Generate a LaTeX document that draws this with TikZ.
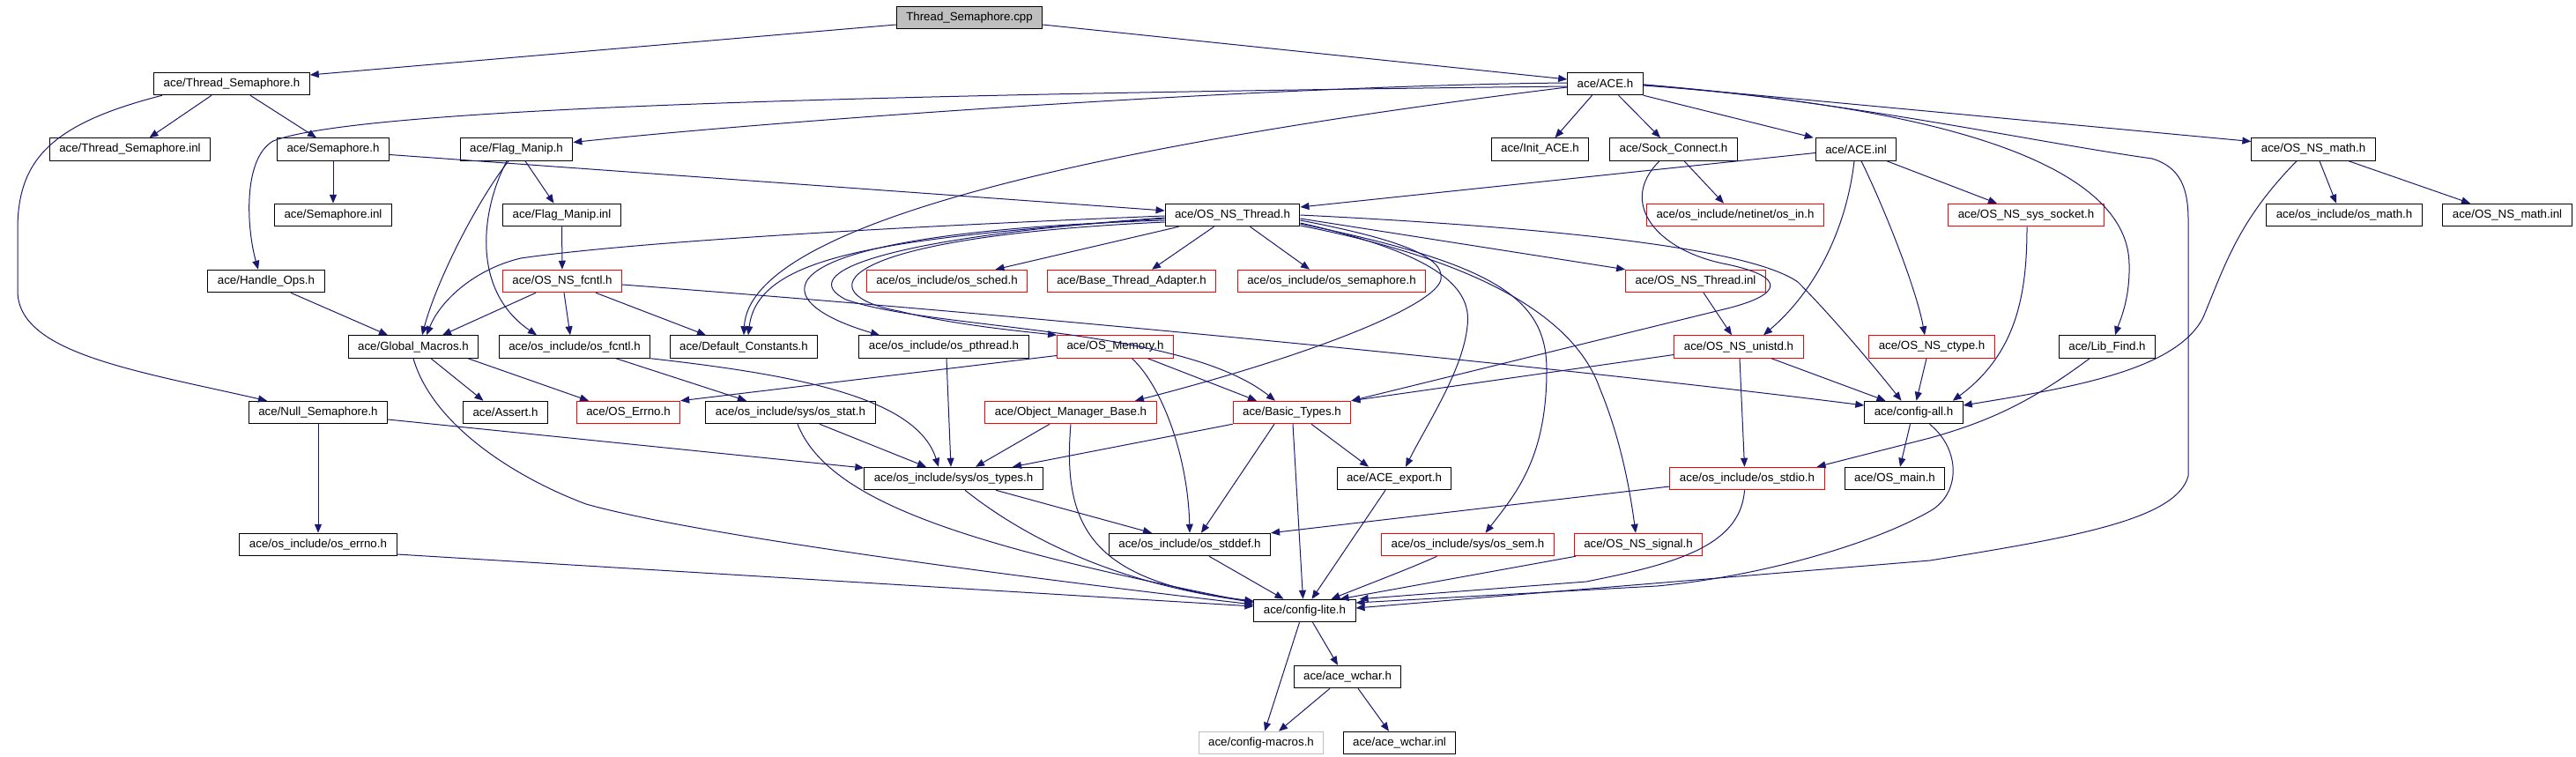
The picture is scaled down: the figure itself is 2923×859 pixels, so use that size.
\documentclass[tikz,border=0pt]{standalone}
\usepackage{fontspec}
\setmainfont{Liberation Sans}
\usepackage{tikz}
\usetikzlibrary{arrows.meta}
\definecolor{edgeblue}{RGB}{25,25,112}
\definecolor{nodocgray}{RGB}{191,191,191}

\begin{document}
\begin{tikzpicture}[
  x=1pt, y=-1pt,
  block/.style={draw, line width=1pt, rectangle, minimum height=25.5pt, inner xsep=11pt, inner ysep=0pt, font={\fontsize{13.3}{15}\selectfont}},
  redblock/.style={block, draw=red},
  grayblock/.style={block, draw=nodocgray},
  rootblock/.style={block, fill=nodocgray},
  arrow/.style={-{Triangle[length=10pt,width=8pt]}, line width=1pt, color=edgeblue}
]
\useasboundingbox (0,0) rectangle (2923,859);

\node[rootblock] (tsc) at (1100,20) {Thread\_Semaphore.cpp};
\node[block] (tsh) at (263,95) {ace/Thread\_Semaphore.h};
\node[block] (aceh) at (1821.5,95) {ace/ACE.h};
\node[block] (tsinl) at (147.5,169.5) {ace/Thread\_Semaphore.inl};
\node[block] (semh) at (378,169.5) {ace/Semaphore.h};
\node[block] (flagh) at (586,169.5) {ace/Flag\_Manip.h};
\node[block] (initace) at (1747.5,169.5) {ace/Init\_ACE.h};
\node[block] (sockc) at (1899,169.5) {ace/Sock\_Connect.h};
\node[block] (aceinl) at (2106,169.5) {ace/ACE.inl};
\node[block] (mathh) at (2625,169.5) {ace/OS\_NS\_math.h};
\node[block] (seminl) at (378,244) {ace/Semaphore.inl};
\node[block] (flaginl) at (637.5,244) {ace/Flag\_Manip.inl};
\node[block] (thrh) at (1398.5,244) {ace/OS\_NS\_Thread.h};
\node[redblock] (osin) at (1969,244) {ace/os\_include/netinet/os\_in.h};
\node[redblock] (socket) at (2299,244) {ace/OS\_NS\_sys\_socket.h};
\node[block] (osmath) at (2660,244) {ace/os\_include/os\_math.h};
\node[block] (mathinl) at (2845,244) {ace/OS\_NS\_math.inl};
\node[block] (handle) at (302,319) {ace/Handle\_Ops.h};
\node[redblock] (fcntl) at (638,319) {ace/OS\_NS\_fcntl.h};
\node[redblock] (sched) at (1074.5,319) {ace/os\_include/os\_sched.h};
\node[redblock] (bta) at (1284,319) {ace/Base\_Thread\_Adapter.h};
\node[redblock] (ossema) at (1511,319) {ace/os\_include/os\_semaphore.h};
\node[redblock] (thrinl) at (1924,319) {ace/OS\_NS\_Thread.inl};
\node[block] (globm) at (469,393.5) {ace/Global\_Macros.h};
\node[block] (osfcntl) at (652,393.5) {ace/os\_include/os\_fcntl.h};
\node[block] (defc) at (844,393.5) {ace/Default\_Constants.h};
\node[block] (pthr) at (1071,393.5) {ace/os\_include/os\_pthread.h};
\node[redblock] (osmem) at (1265.5,393.5) {ace/OS\_Memory.h};
\node[redblock] (unistd) at (1973,393.5) {ace/OS\_NS\_unistd.h};
\node[redblock] (ctype) at (2192,393.5) {ace/OS\_NS\_ctype.h};
\node[block] (libfind) at (2391,393.5) {ace/Lib\_Find.h};
\node[block] (nullsem) at (361,468) {ace/Null\_Semaphore.h};
\node[block] (assert) at (573.5,468) {ace/Assert.h};
\node[redblock] (errno) at (713,468) {ace/OS\_Errno.h};
\node[block] (osstat) at (897,468) {ace/os\_include/sys/os\_stat.h};
\node[redblock] (omb) at (1215,468) {ace/Object\_Manager\_Base.h};
\node[redblock] (basic) at (1466,468) {ace/Basic\_Types.h};
\node[block] (cfgall) at (2171.5,468) {ace/config-all.h};
\node[block] (ostypes) at (1082,543) {ace/os\_include/sys/os\_types.h};
\node[block] (export) at (1582,543) {ace/ACE\_export.h};
\node[redblock] (stdio) at (1982.5,543) {ace/os\_include/os\_stdio.h};
\node[block] (osmain) at (2150,543) {ace/OS\_main.h};
\node[block] (oserrno) at (361,618) {ace/os\_include/os\_errno.h};
\node[block] (stddef) at (1350,618) {ace/os\_include/os\_stddef.h};
\node[redblock] (ossem) at (1665.5,618) {ace/os\_include/sys/os\_sem.h};
\node[redblock] (signal) at (1859,618) {ace/OS\_NS\_signal.h};
\node[block] (cfglite) at (1480.5,693) {ace/config-lite.h};
\node[block] (wchar) at (1529,768) {ace/ace\_wchar.h};
\node[grayblock] (cfgmac) at (1431,843) {ace/config-macros.h};
\node[block] (wcharinl) at (1588,843) {ace/ace\_wchar.inl};

\draw[arrow] ([yshift=-8pt]tsc.west) -- ([yshift=10pt]tsh.east);
\draw[arrow] ([yshift=-8pt]tsc.east) -- ([yshift=5pt]aceh.west);

\draw[arrow] ([xshift=-23pt]tsh.south) -- ([xshift=22pt]tsinl.north);
\draw[arrow] ([xshift=21pt]tsh.south) -- ([xshift=-19pt]semh.north);
\draw[arrow] ([xshift=-79pt]tsh.south) .. controls (60,140) and (20,180) .. (20,260) -- (20,330)
  .. controls (20,400) and (150,420) .. ([xshift=-58pt]nullsem.north);

\draw[arrow] ([yshift=-3pt]aceh.west) .. controls (900,108) and (400,125) .. (310,160)
  .. controls (275,180) and (280,260) .. ([xshift=-9pt]handle.north);
\draw[arrow] ([yshift=1pt]aceh.west) .. controls (1450,97) and (900,135) .. ([yshift=8pt]flagh.east);
\draw[arrow] ([yshift=-4pt]aceh.west) .. controls (1200,170) and (850,260) .. (defc.north);
\draw[arrow] ([xshift=-15pt]aceh.south) -- ([xshift=17pt]initace.north);
\draw[arrow] ([xshift=15pt]aceh.south) -- ([xshift=-15pt]sockc.north);
\draw[arrow] (aceh.south east) -- ([xshift=-2pt]aceinl.north west);
\draw[arrow] ([yshift=-1pt]aceh.east) -- ([yshift=9pt]mathh.west);
\draw[arrow] ([yshift=-2pt]aceh.east) .. controls (2250,125) and (2415,200) .. (2416,300)
  .. controls (2417,340) and (2405,365) .. ([xshift=9pt]libfind.north);
\draw[arrow] ([yshift=-1pt]aceh.east) .. controls (2100,115) and (2300,160) .. (2442,180)
  .. controls (2475,190) and (2483,215) .. (2483,250) -- (2483,540)
  .. controls (2470,590) and (2350,610) .. (2190,636) -- ([yshift=3pt]cfglite.east);

\draw[arrow] (semh) -- (seminl);
\draw[arrow] ([yshift=-6pt]semh.east) -- ([yshift=5pt]thrh.west);

\draw[arrow] ([xshift=10pt]flagh.south) -- ([xshift=-9pt]flaginl.north);
\draw[arrow] ([xshift=-9pt]flagh.south) .. controls (540,230) and (495,320) .. ([xshift=10pt]globm.north);
\draw[arrow] ([xshift=-11pt]flagh.south) .. controls (545,240) and (535,330) .. ([xshift=-43pt]osfcntl.north);
\draw[arrow] (flaginl) -- (fcntl);

\draw[arrow] ([xshift=28pt]handle.south) -- ([xshift=-29pt]globm.north);

\draw[arrow] ([xshift=-30pt]fcntl.south) -- ([xshift=33pt]globm.north);
\draw[arrow] ([xshift=2pt]fcntl.south) -- ([xshift=-5pt]osfcntl.north);
\draw[arrow] ([xshift=38pt]fcntl.south) -- ([xshift=-43pt]defc.north);
\draw[arrow] ([yshift=-4pt]fcntl.east) .. controls (1200,360) and (1800,420) .. ([yshift=8pt]cfgall.west);

\draw[arrow] ([yshift=-1pt]thrh.west) .. controls (900,262) and (680,280) .. (591,293)
  .. controls (540,305) and (500,340) .. ([xshift=15pt]globm.north);
\draw[arrow] ([yshift=-4pt]thrh.west) .. controls (1000,270) and (860,290) .. ([xshift=5pt]defc.north);
\draw[arrow] ([yshift=-6pt]thrh.west) .. controls (850,265) and (860,340) .. ([xshift=-73pt]pthr.north);
\draw[arrow] ([yshift=-8pt]thrh.west) .. controls (930,270) and (920,335) .. (1020,353)
  .. controls (1080,368) and (1150,375) .. (osmem.north west);
\draw[arrow] ([yshift=-3pt]thrh.west) .. controls (1000,270) and (900,310) .. (960,340)
  .. controls (1060,375) and (1340,370) .. ([xshift=-19pt]basic.north);
\draw[arrow] ([xshift=-61pt]thrh.south) -- ([xshift=55pt]sched.north);
\draw[arrow] ([xshift=-21pt]thrh.south) -- ([xshift=23pt]bta.north);
\draw[arrow] ([xshift=20pt]thrh.south) -- ([xshift=-25pt]ossema.north);
\draw[arrow] ([yshift=-4pt]thrh.east) -- (thrinl.north west);
\draw[arrow] (thrh.east) .. controls (1800,260) and (1990,285) .. (2040,320)
  .. controls (2080,360) and (2130,420) .. ([xshift=-14pt]cfgall.north);
\draw[arrow] ([yshift=-6pt]thrh.east) .. controls (1580,270) and (1640,290) .. (1635,317)
  .. controls (1630,345) and (1500,400) .. ([xshift=73pt]omb.north);
\draw[arrow] ([yshift=-9pt]thrh.east) .. controls (1640,290) and (1670,330) .. (1665,370)
  .. controls (1660,420) and (1620,480) .. ([xshift=13pt]export.north);
\draw[arrow] ([yshift=-10pt]thrh.east) .. controls (1700,300) and (1755,340) .. (1755,420)
  .. controls (1755,520) and (1720,560) .. ([xshift=20pt]ossem.north);
\draw[arrow] ([yshift=-12pt]thrh.east) .. controls (1700,300) and (1790,370) .. (1815,440)
  .. controls (1840,500) and (1850,560) .. ([xshift=-3pt]signal.north);

\draw[arrow] ([yshift=-4pt]aceinl.west) -- ([yshift=9pt]thrh.east);
\draw[arrow] ([xshift=-2pt]aceinl.south) .. controls (2095,260) and (2060,330) .. ([xshift=28pt]unistd.north);
\draw[arrow] ([xshift=6pt]aceinl.south) .. controls (2140,240) and (2175,330) .. ([xshift=-8pt]ctype.north);
\draw[arrow] ([xshift=35pt]aceinl.south) -- ([xshift=-33pt]socket.north);

\draw[arrow] ([xshift=12pt]sockc.south) -- ([xshift=-13pt]osin.north);
\draw[arrow] ([xshift=-16pt]sockc.south) .. controls (1835,230) and (1880,285) .. (1960,300)
  .. controls (2030,315) and (2020,335) .. (1960,350) -- (basic.north east);

\draw[arrow] ([yshift=-9pt]unistd.west) -- (basic.north east);
\draw[arrow] ([xshift=37pt]unistd.south) -- ([xshift=-32pt]cfgall.north);
\draw[arrow] ([xshift=1pt]unistd.south) -- ([xshift=-3pt]stdio.north);
\draw[arrow] ([xshift=9pt]thrinl.south) -- ([xshift=-8pt]unistd.north);
\draw[arrow] ([xshift=-6pt]ctype.south) -- ([xshift=3pt]cfgall.north);
\draw[arrow] ([xshift=1pt]socket.south) .. controls (2300,330) and (2290,400) .. ([xshift=-12pt]cfgall.north east);

\draw[arrow] ([xshift=7pt]mathh.south) -- ([xshift=-9pt]osmath.north);
\draw[arrow] ([xshift=40pt]mathh.south) -- ([xshift=-42pt]mathinl.north);
\draw[arrow] ([xshift=-19pt]mathh.south) .. controls (2540,250) and (2525,300) .. (2500,360)
  .. controls (2470,420) and (2350,440) .. ([yshift=8pt]cfgall.east);

\draw[arrow] ([xshift=-20pt]libfind.south) .. controls (2300,460) and (2250,480) .. (2190,497)
  -- ([xshift=-9pt]stdio.north east);

\draw[arrow] ([xshift=-4pt]cfgall.south) -- ([xshift=6pt]osmain.north);
\draw[arrow] ([xshift=18pt]cfgall.south) .. controls (2225,510) and (2225,560) .. (2190,580)
  .. controls (2120,620) and (1990,655) .. (1880,665) -- ([yshift=9pt]cfglite.east);

\draw[arrow] ([xshift=20pt]globm.south) -- ([xshift=-25pt]assert.north);
\draw[arrow] ([xshift=62pt]globm.south) -- ([xshift=-45pt]errno.north);
\draw[arrow] (globm.south) .. controls (490,480) and (580,540) .. (665,572)
  .. controls (800,610) and (1200,660) .. ([yshift=7pt]cfglite.west);

\draw[arrow] ([xshift=47pt]osfcntl.south) -- ([xshift=-50pt]osstat.north);
\draw[arrow] (osfcntl.south east) .. controls (900,425) and (1040,450) .. ([xshift=-17pt]ostypes.north);
\draw[arrow] ([xshift=33pt]osstat.south) -- ([xshift=-31pt]ostypes.north);
\draw[arrow] ([xshift=8pt]osstat.south) .. controls (940,570) and (1100,620) .. ([yshift=9pt]cfglite.west);
\draw[arrow] ([xshift=3pt]pthr.south) -- ([xshift=-3pt]ostypes.north);

\draw[arrow] ([yshift=-10pt]osmem.west) -- (errno.north east);
\draw[arrow] ([xshift=37pt]osmem.south) -- ([xshift=-40pt]basic.north);
\draw[arrow] ([xshift=19pt]osmem.south) .. controls (1320,440) and (1348,520) .. (stddef.north);

\draw[arrow] ([xshift=-24pt]omb.south) -- ([xshift=25pt]ostypes.north);
\draw[arrow] (omb.south) .. controls (1205,600) and (1240,660) .. ([yshift=11pt]cfglite.west);

\draw[arrow] (basic.south west) -- ([xshift=67pt]ostypes.north);
\draw[arrow] ([xshift=-20pt]basic.south) -- ([xshift=13pt]stddef.north);
\draw[arrow] ([xshift=1pt]basic.south) -- ([xshift=-2pt]cfglite.north);
\draw[arrow] ([xshift=22pt]basic.south) -- ([xshift=-29pt]export.north);

\draw[arrow] ([xshift=48pt]ostypes.south) -- ([xshift=-43pt]stddef.north);
\draw[arrow] ([xshift=13pt]ostypes.south) .. controls (1150,600) and (1250,660) .. ([yshift=10pt]cfglite.west);
\draw[arrow] ([xshift=22pt]stddef.south) -- ([xshift=-24pt]cfglite.north);
\draw[arrow] ([xshift=-10pt]export.south) -- ([xshift=8pt]cfglite.north);
\draw[arrow] ([xshift=-35pt]ossem.south) .. controls (1600,645) and (1560,660) .. ([xshift=30pt]cfglite.north);
\draw[arrow] ([xshift=-71pt]signal.south) -- ([xshift=40pt]cfglite.north);
\draw[arrow] ([yshift=-9pt]stdio.west) -- (stddef.north east);
\draw[arrow] ([xshift=-3pt]stdio.south) .. controls (1975,620) and (1900,640) .. (1800,660)
  -- ([xshift=4pt]cfglite.north east);

\draw[arrow] ([yshift=-11pt]oserrno.east) -- ([yshift=5pt]cfglite.west);
\draw[arrow] (nullsem) -- (oserrno);
\draw[arrow] ([yshift=-8pt]nullsem.east) -- ([yshift=12pt]ostypes.west);

\draw[arrow] ([xshift=-6pt]cfglite.south) -- ([xshift=4pt]cfgmac.north);
\draw[arrow] ([xshift=9pt]cfglite.south) -- ([xshift=-11pt]wchar.north);
\draw[arrow] ([xshift=-20pt]wchar.south) -- ([xshift=20pt]cfgmac.north);
\draw[arrow] ([xshift=12pt]wchar.south) -- ([xshift=-12pt]wcharinl.north);

\end{tikzpicture}
\end{document}
